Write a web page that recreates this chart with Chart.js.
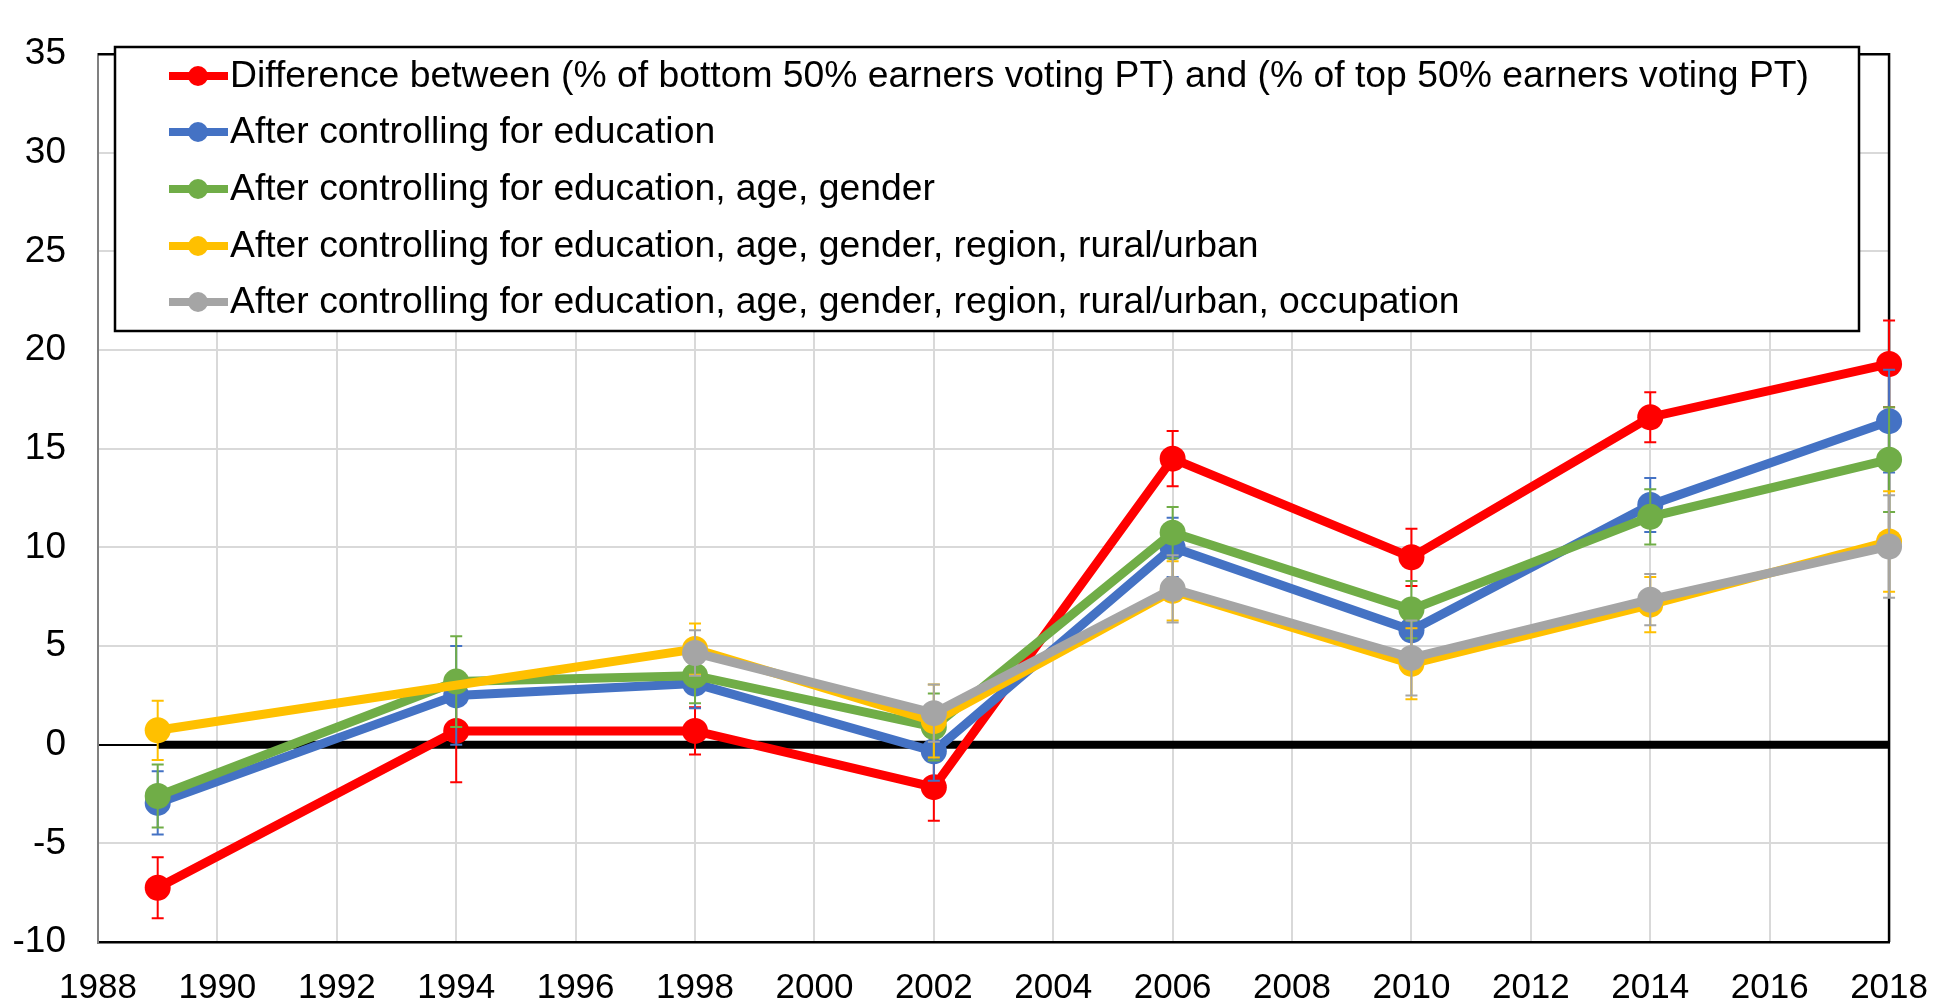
<!DOCTYPE html>
<html>
<head>
<meta charset="utf-8">
<script src="https://cdn.jsdelivr.net/npm/chart.js@4/dist/chart.umd.min.js"></script>
<style>
html,body{margin:0;padding:0;background:#fff;}
canvas{display:block;}
</style>
</head>
<body>
<canvas id="c" width="1953" height="1005"></canvas>
<script>
// ---- data ----
const years = [1989, 1994, 1998, 2002, 2006, 2010, 2014, 2018];
const seriesNames = [
  "Difference between (% of bottom 50% earners voting PT) and (% of top 50% earners voting PT)",
  "After controlling for education",
  "After controlling for education, age, gender",
  "After controlling for education, age, gender, region, rural/urban",
  "After controlling for education, age, gender, region, rural/urban, occupation"
];
const seriesColors = ["#FF0000", "#4472C4", "#70AD47", "#FFC000", "#A5A5A5"];
const diffVals = [-7.25, 0.7, 0.7, -2.15, 14.5, 9.5, 16.6, 19.3];
const diffErr  = [1.55, 2.6, 1.2, 1.7, 1.4, 1.45, 1.27, 2.2];
const eduVals  = [-2.95, 2.5, 3.1, -0.33, 10.0, 5.8, 12.15, 16.4];
const eduErr   = [1.6, 2.5, 1.25, 1.5, 1.5, 1.5, 1.37, 2.6];
const eagVals  = [-2.6, 3.2, 3.5, 0.9, 10.75, 6.85, 11.55, 14.45];
const eagErr   = [1.6, 2.3, 1.4, 1.7, 1.3, 1.45, 1.4, 2.65];
const regVals  = [0.73, null, 4.85, 1.2, 7.8, 4.1, 7.1, 10.3];
const regErr   = [1.5, null, 1.3, 1.85, 1.5, 1.8, 1.4, 2.55];
const occVals  = [null, null, 4.65, 1.6, 7.9, 4.4, 7.35, 10.05];
const occErr   = [null, null, 1.15, 1.45, 1.7, 1.9, 1.3, 2.6];
const zeroLineYears = [1989, 2018];
const xTickMin = 1988, xTickMax = 2018, xTickStep = 2;
const yTickMin = -10, yTickMax = 35, yTickStep = 5;

const allVals = [diffVals, eduVals, eagVals, regVals, occVals];
const allErrs = [diffErr, eduErr, eagErr, regErr, occErr];

const FONT = "'Liberation Sans', Arial, sans-serif";

function pts(vals) { return years.map((y, i) => ({x: y, y: vals[i]})); }

const datasets = allVals.map((vals, k) => ({
  label: seriesNames[k],
  data: pts(vals),
  borderColor: seriesColors[k],
  backgroundColor: seriesColors[k],
  pointBackgroundColor: seriesColors[k],
  pointBorderColor: seriesColors[k],
  borderWidth: 9,
  pointRadius: 13,
  pointBorderWidth: 0,
  pointHoverRadius: 13,
  tension: 0,
  spanGaps: true,
  clip: false,
  order: 5 - k,
  errs: allErrs[k]
}));
datasets.push({
  label: "zero",
  data: zeroLineYears.map(y => ({x: y, y: 0})),
  borderColor: "#000",
  borderWidth: 8,
  pointRadius: 0,
  clip: false,
  order: 10
});

const errorBars = {
  id: 'errorBars',
  beforeDatasetDraw(chart, args) {
    const ds = chart.data.datasets[args.index];
    if (!ds.errs) return;
    const xs = chart.scales.x, ys = chart.scales.y, ctx = chart.ctx;
    ctx.save();
    ctx.strokeStyle = ds.borderColor;
    ctx.lineWidth = 2;
    ds.data.forEach((p, i) => {
      const e = ds.errs[i];
      if (p.y == null || e == null) return;
      const px = xs.getPixelForValue(p.x);
      const top = ys.getPixelForValue(p.y + e);
      const bot = ys.getPixelForValue(p.y - e);
      ctx.beginPath();
      ctx.moveTo(px, top); ctx.lineTo(px, bot);
      ctx.moveTo(px - 6, top); ctx.lineTo(px + 6, top);
      ctx.moveTo(px - 6, bot); ctx.lineTo(px + 6, bot);
      ctx.stroke();
    });
    ctx.restore();
  }
};

const frameAndLegend = {
  id: 'frameAndLegend',
  beforeDatasetsDraw(chart) {
    const ctx = chart.ctx, a = chart.chartArea;
    ctx.save();
    // top and right frame
    ctx.strokeStyle = '#000';
    ctx.lineWidth = 2.5;
    ctx.beginPath();
    ctx.moveTo(a.left, a.top); ctx.lineTo(a.right, a.top); ctx.lineTo(a.right, a.bottom);
    ctx.stroke();
    // legend box
    const bx = 115, by = 47, bw = 1859 - 115, bh = 331 - 47;
    ctx.fillStyle = '#fff';
    ctx.fillRect(bx, by, bw, bh);
    ctx.lineWidth = 2.5;
    ctx.strokeRect(bx, by, bw, bh);
    const rows = [76, 132, 189, 246, 302];
    ctx.font = "37.3px " + FONT;
    ctx.textBaseline = 'middle';
    ctx.textAlign = 'left';
    seriesNames.forEach((name, k) => {
      const ry = rows[k];
      ctx.strokeStyle = seriesColors[k];
      ctx.lineWidth = 8;
      ctx.beginPath(); ctx.moveTo(169, ry); ctx.lineTo(228, ry); ctx.stroke();
      ctx.fillStyle = seriesColors[k];
      ctx.beginPath(); ctx.arc(198, ry, 10, 0, Math.PI * 2); ctx.fill();
      ctx.fillStyle = '#000';
      ctx.fillText(name, 230, ry + 1);
    });
    ctx.restore();
  }
};

new Chart(document.getElementById('c'), {
  type: 'line',
  data: { datasets },
  options: {
    responsive: false,
    devicePixelRatio: 1,
    animation: false,
    layout: { padding: { top: 25, right: 63, left: 0, bottom: 0 } },
    plugins: { legend: { display: false }, tooltip: { enabled: false } },
    scales: {
      x: {
        type: 'linear',
        min: xTickMin, max: xTickMax,
        afterFit(s) { s.height = 63; },
        ticks: {
          stepSize: xTickStep,
          callback: v => String(v),
          color: '#000',
          font: { family: FONT, size: 35 },
          padding: 25,
          maxRotation: 0
        },
        grid: { color: '#d9d9d9', lineWidth: 2, drawTicks: false },
        border: { color: '#000', width: 2.5 }
      },
      y: {
        min: yTickMin, max: yTickMax,
        afterFit(s) { s.width = 98; },
        ticks: {
          stepSize: yTickStep,
          color: '#000',
          font: { family: FONT, size: 37 },
          padding: 32
        },
        grid: {
          color: c => (c.tick && c.tick.value === 0) ? '#000' : '#d9d9d9',
          lineWidth: 2,
          drawTicks: false
        },
        border: { color: '#808080', width: 2 }
      }
    }
  },
  plugins: [errorBars, frameAndLegend]
});
</script>
</body>
</html>
